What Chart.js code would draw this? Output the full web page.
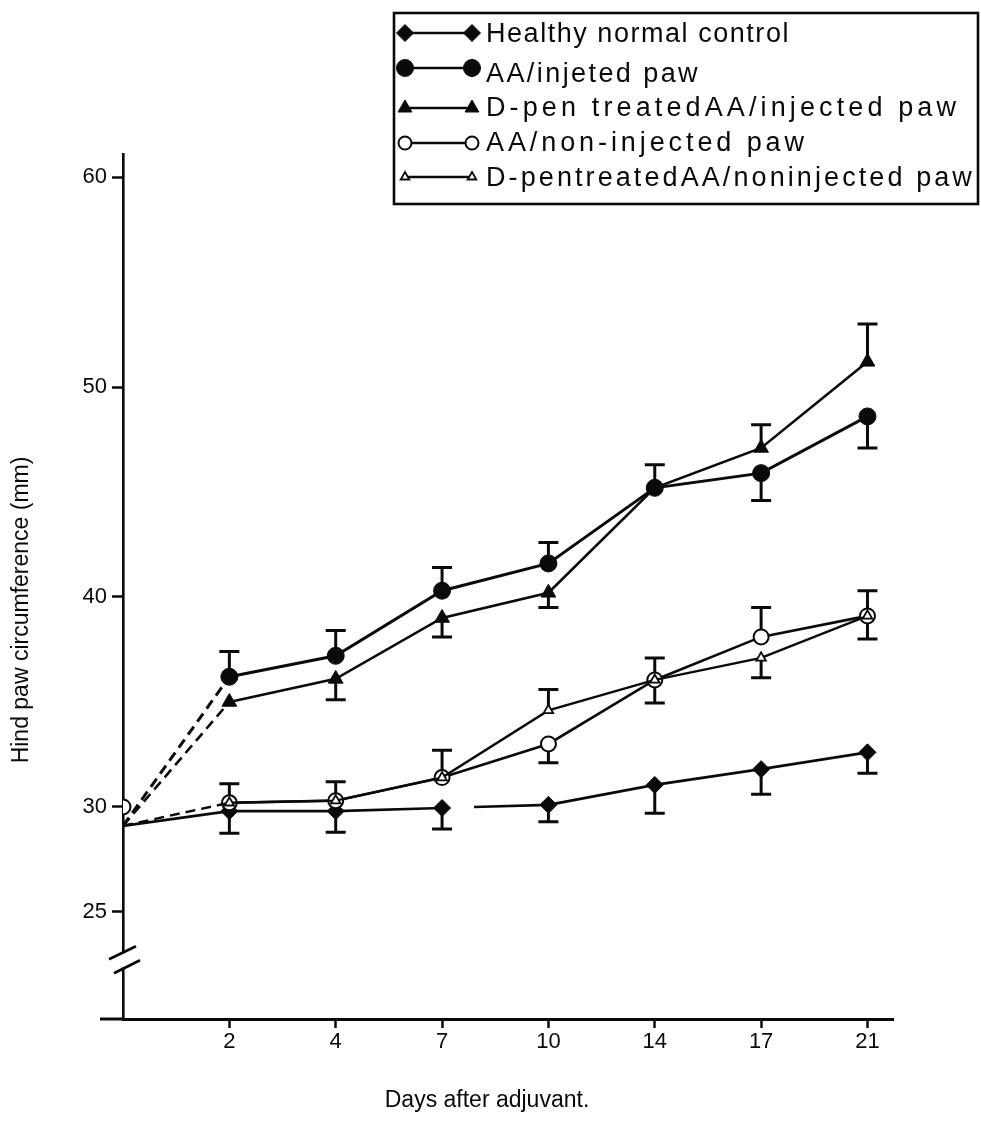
<!DOCTYPE html>
<html>
<head>
<meta charset="utf-8">
<title>Hind paw circumference</title>
<script src="https://cdn.jsdelivr.net/npm/chart.js@4.4.1/dist/chart.umd.min.js"></script>
<style>
  html, body { margin: 0; padding: 0; background: #fff; }
  #wrap { width: 981px; height: 1141px; position: relative; }
  canvas { display: block; }
</style>
</head>
<body>
<div id="wrap"><canvas id="c" width="981" height="1141"></canvas></div>
<script>
// Days after adjuvant (plotted at evenly spaced positions)
const dayLabels = ['0', '2', '4', '7', '10', '14', '17', '21'];
const yTickValues = [25, 30, 40, 50, 60];

const seriesNames = [
  'Healthy normal control',
  'AA/injeted paw',
  'D-pen treatedAA/injected paw',
  'AA/non-injected paw',
  'D-pentreatedAA/noninjected paw'
];

// Mean hind paw circumference (mm)
const healthyControl   = [29.1, 29.8, 29.8, 29.95, 30.1, 31.05, 31.8, 32.6];
const aaInjected       = [29.1, 36.2, 37.2, 40.3, 41.6, 45.2, 45.9, 48.6];
const dpenInjected     = [29.1, 35.0, 36.1, 39.0, 40.2, 45.2, 47.1, 51.2];
const aaNonInjected    = [30.0, 30.2, 30.3, 31.4, 33.0, 36.05, 38.1, 39.1];
const dpenNonInjected  = [29.1, 30.2, 30.3, 31.4, 34.6, 36.05, 37.1, 39.1];

// One-sided error bars (mm), upward and downward
const healthyErrUp      = [0, 0, 0, 0, 0, 0, 0, 0];
const healthyErrDown    = [0, 1.05, 1.0, 1.0, 0.8, 1.35, 1.2, 1.0];
const aaInjErrUp        = [0, 1.2, 1.2, 1.1, 1.0, 1.1, 0, 0];
const aaInjErrDown      = [0, 0, 0, 0, 0, 0, 1.3, 1.5];
const dpenInjErrUp      = [0, 0, 0, 0, 0, 0, 1.1, 1.8];
const dpenInjErrDown    = [0, 0, 1.0, 0.9, 0.7, 0, 0, 0];
const aaNonInjErrUp     = [0, 0.9, 0.9, 1.3, 0, 1.05, 1.4, 1.2];
const aaNonInjErrDown   = [0, 0, 0, 0, 0.9, 0, 0, 0];
const dpenNonInjErrUp   = [0, 0, 0, 0, 1.0, 0, 0, 0];
const dpenNonInjErrDown = [0, 0, 0, 0, 0, 1.1, 0.95, 1.1];

const INK = '#0a0a0a';
const FONT = "'Liberation Sans', Arial, Helvetica, sans-serif";

const toPoints = arr => arr.map((v, i) => ({ x: i, y: v }));

// marker radius per point: the shared starting point on the axis gets none
const radii = (r, first) => dayLabels.map((_, i) => (i === 0 ? first : r));

const dashFirst = ctx => (ctx.p0DataIndex === 0 ? [10, 6] : undefined);

const datasets = [
  {
    label: seriesNames[0], data: toPoints(healthyControl),
    errUp: healthyErrUp, errDown: healthyErrDown,
    borderColor: INK, borderWidth: 2.6,
    pointStyle: 'rectRot', pointRadius: radii(8.5, 0),
    pointBackgroundColor: INK, pointBorderColor: INK, pointBorderWidth: 1,
    // the control line is interrupted just after day 7
    segment: { borderDash: ctx => (ctx.p0DataIndex === 3 ? [0, 32, 3000, 0] : undefined) },
    order: 1
  },
  {
    label: seriesNames[1], data: toPoints(aaInjected),
    errUp: aaInjErrUp, errDown: aaInjErrDown,
    borderColor: INK, borderWidth: 3,
    pointStyle: 'circle', pointRadius: radii(8.5, 0),
    pointBackgroundColor: INK, pointBorderColor: INK, pointBorderWidth: 1,
    segment: { borderDash: dashFirst },
    order: 2
  },
  {
    label: seriesNames[2], data: toPoints(dpenInjected),
    errUp: dpenInjErrUp, errDown: dpenInjErrDown,
    borderColor: INK, borderWidth: 2.6,
    pointStyle: 'triangle', pointRadius: radii(8.5, 0),
    pointBackgroundColor: INK, pointBorderColor: INK, pointBorderWidth: 1,
    segment: { borderDash: dashFirst },
    order: 3
  },
  {
    label: seriesNames[3], data: toPoints(aaNonInjected),
    errUp: aaNonInjErrUp, errDown: aaNonInjErrDown,
    borderColor: INK, borderWidth: 2.6,
    pointStyle: 'circle', pointRadius: radii(7.5, 7.5),
    pointBackgroundColor: '#fff', pointBorderColor: INK, pointBorderWidth: 2,
    // its first leg is carried by the D-pen non-injected dashed line
    segment: { borderColor: ctx => (ctx.p0DataIndex === 0 ? 'rgba(0,0,0,0)' : undefined) },
    order: 0
  },
  {
    label: seriesNames[4], data: toPoints(dpenNonInjected),
    errUp: dpenNonInjErrUp, errDown: dpenNonInjErrDown,
    borderColor: INK, borderWidth: 2.4,
    pointStyle: 'triangle', pointRadius: radii(5.5, 0),
    pointBackgroundColor: '#fff', pointBorderColor: INK, pointBorderWidth: 1.8,
    segment: { borderDash: dashFirst },
    order: -1
  }
];

// Error bars, drawn under the markers
const errorBars = {
  id: 'errorBars',
  beforeDatasetsDraw(chart) {
    const { ctx, scales: { x, y } } = chart;
    ctx.save();
    ctx.strokeStyle = INK;
    ctx.lineWidth = 3;
    ctx.lineCap = 'butt';
    const cap = 10;
    chart.data.datasets.forEach(ds => {
      ds.data.forEach((p, i) => {
        const px = x.getPixelForValue(p.x);
        const py = y.getPixelForValue(p.y);
        [[ds.errUp[i], 1], [ds.errDown[i], -1]].forEach(([e, dir]) => {
          if (!e) return;
          const ey = y.getPixelForValue(p.y + dir * e);
          ctx.beginPath();
          ctx.moveTo(px, py);
          ctx.lineTo(px, ey);
          ctx.moveTo(px - cap, ey);
          ctx.lineTo(px + cap, ey);
          ctx.stroke();
        });
      });
    });
    ctx.restore();
  }
};

// Legend layout: row centres, marker sizes and the width each label spans
const legendRowY = [33, 68, 108, 143, 177];
const legendTextY = [35, 75, 109, 144, 179];
const legendMarkerR = [8.5, 8.5, 8, 6.5, 5];
const legendTextSpan = [304, 214, 474, 322, 489];

// Axis titles, axis break, left overhang of the x axis and the boxed legend
const decorations = {
  id: 'decorations',
  afterDraw(chart) {
    const { ctx, scales: { y }, chartArea } = chart;
    ctx.save();

    // x axis runs a little past the y axis on the left
    ctx.strokeStyle = INK;
    ctx.lineWidth = 3;
    ctx.beginPath();
    ctx.moveTo(chartArea.left - 23, chartArea.bottom);
    ctx.lineTo(chartArea.left, chartArea.bottom);
    ctx.stroke();

    // break marks on the y axis below 25
    const by = y.getPixelForValue(22.7);
    const ax = chartArea.left;
    ctx.fillStyle = '#fff';
    ctx.fillRect(ax - 3, by - 7, 6, 14);
    ctx.lineWidth = 2.8;
    ctx.beginPath();
    ctx.moveTo(ax - 14, by - 1);
    ctx.lineTo(ax + 13, by - 14);
    ctx.moveTo(ax - 9, by + 13);
    ctx.lineTo(ax + 17, by);
    ctx.stroke();

    // axis titles
    ctx.fillStyle = INK;
    ctx.font = '23px ' + FONT;
    ctx.textAlign = 'center';
    ctx.textBaseline = 'middle';
    ctx.fillText('Days after adjuvant.', 487, 1101);
    ctx.save();
    ctx.translate(22, 610);
    ctx.rotate(-Math.PI / 2);
    ctx.fillText('Hind paw circumference (mm)', 0, 0);
    ctx.restore();

    // legend box
    const box = { left: 394, top: 13, right: 978, bottom: 204 };
    ctx.lineWidth = 2.6;
    ctx.strokeRect(box.left, box.top, box.right - box.left, box.bottom - box.top);
    chart.data.datasets.forEach((ds, i) => {
      const yy = legendRowY[i];
      ctx.strokeStyle = INK;
      ctx.lineWidth = 2.6;
      ctx.setLineDash([]);
      ctx.beginPath();
      ctx.moveTo(405, yy);
      ctx.lineTo(472, yy);
      ctx.stroke();
      [405, 472].forEach(mx => {
        ctx.fillStyle = ds.pointBackgroundColor;
        ctx.strokeStyle = ds.pointBorderColor;
        ctx.lineWidth = ds.pointBorderWidth;
        Chart.helpers.drawPoint(ctx, { pointStyle: ds.pointStyle, radius: legendMarkerR[i], borderWidth: ds.pointBorderWidth, rotation: 0 }, mx, yy);
      });
      ctx.fillStyle = INK;
      ctx.font = '27px ' + FONT;
      ctx.textAlign = 'left';
      ctx.textBaseline = 'middle';
      ctx.letterSpacing = '0px';
      const w = ctx.measureText(ds.label).width;
      const spacing = Math.max(0, (legendTextSpan[i] - w) / ds.label.length);
      ctx.letterSpacing = spacing.toFixed(2) + 'px';
      ctx.fillText(ds.label, 486, legendTextY[i]);
      ctx.letterSpacing = '0px';
    });
    ctx.restore();
  }
};

new Chart(document.getElementById('c'), {
  type: 'line',
  data: { datasets },
  options: {
    responsive: false,
    animation: false,
    events: [],
    layout: { padding: { left: 0, top: 154, right: 88, bottom: 0 } },
    plugins: { legend: { display: false }, tooltip: { enabled: false } },
    elements: { line: { tension: 0, fill: false } },
    scales: {
      x: {
        type: 'linear', min: 0, max: 7.24,
        afterBuildTicks: s => { s.ticks = dayLabels.slice(1).map((_, i) => ({ value: i + 1 })); },
        afterFit: s => { s.height = 122; },
        ticks: {
          callback: v => dayLabels[v],
          font: { family: FONT, size: 22 }, color: INK,
          padding: 1, maxRotation: 0, autoSkip: false
        },
        grid: { drawOnChartArea: false, drawTicks: true, tickLength: 9, tickWidth: 2.5, tickColor: INK },
        border: { display: true, color: INK, width: 3 }
      },
      y: {
        type: 'linear', min: 19.9, max: 61.1,
        afterBuildTicks: s => { s.ticks = yTickValues.map(v => ({ value: v })); },
        afterFit: s => { s.width = 123; },
        ticks: {
          callback: v => String(v),
          font: { family: FONT, size: 22 }, color: INK,
          padding: 5, autoSkip: false
        },
        grid: { drawOnChartArea: false, drawTicks: true, tickLength: 11, tickWidth: 2.5, tickColor: INK },
        border: { display: true, color: INK, width: 2.6 }
      }
    }
  },
  plugins: [errorBars, decorations]
});
</script>
</body>
</html>
